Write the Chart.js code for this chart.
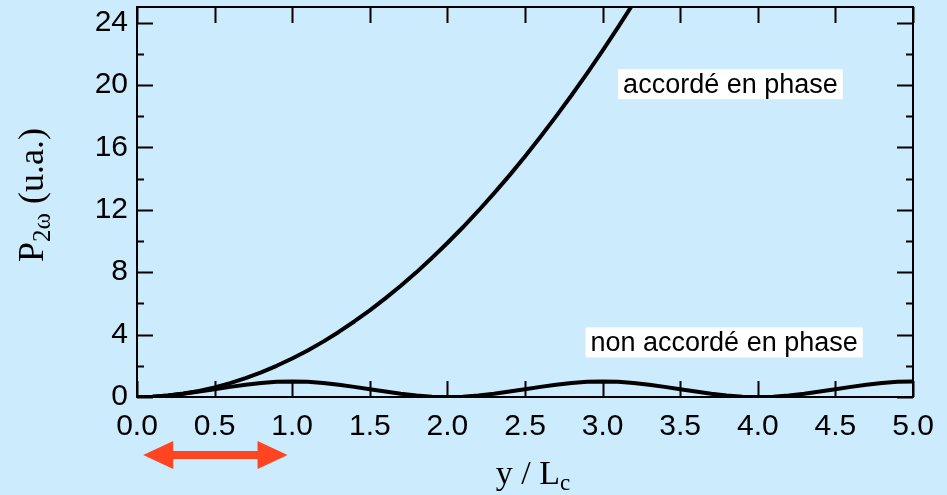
<!DOCTYPE html>
<html>
<head>
<meta charset="utf-8">
<script src="https://cdn.jsdelivr.net/npm/chart.js@4/dist/chart.umd.min.js"></script>
<style>
	html, body { margin: 0; padding: 0; background: #ccebfd; }
	#wrap { width: 947px; height: 495px; }
</style>
</head>
<body>
<div id="wrap"><canvas id="shg" width="947" height="495"></canvas></div>
<script>
// Data: y / Lc from 0 to 5 in steps of 0.1
const positions = [
	0.0, 0.1, 0.2, 0.3, 0.4, 0.5, 0.6, 0.7, 0.8, 0.9,
	1.0, 1.1, 1.2, 1.3, 1.4, 1.5, 1.6, 1.7, 1.8, 1.9,
	2.0, 2.1, 2.2, 2.3, 2.4, 2.5, 2.6, 2.7, 2.8, 2.9,
	3.0, 3.1, 3.2, 3.3, 3.4, 3.5, 3.6, 3.7, 3.8, 3.9,
	4.0, 4.1, 4.2, 4.3, 4.4, 4.5, 4.6, 4.7, 4.8, 4.9,
	5.0,
];

// phase matched: grows quadratically, leaves the frame near 3.2
const matchedPower = [
	0, 0.02, 0.1, 0.22, 0.39, 0.62, 0.89, 1.21, 1.58, 2.0,
	2.47, 2.98, 3.55, 4.17, 4.84, 5.55, 6.32, 7.13, 7.99, 8.91,
	9.87, 10.88, 11.94, 13.05, 14.21, 15.42, 16.68, 17.99, 19.34, 20.75,
	22.21, 23.71, 25.26,
];

// not phase matched: oscillates between 0 and 1
const mismatchedPower = [
	0, 0.02, 0.1, 0.21, 0.35, 0.5, 0.65, 0.79, 0.9, 0.98,
	1.0, 0.98, 0.9, 0.79, 0.65, 0.5, 0.35, 0.21, 0.1, 0.02,
	0, 0.02, 0.1, 0.21, 0.35, 0.5, 0.65, 0.79, 0.9, 0.98,
	1.0, 0.98, 0.9, 0.79, 0.65, 0.5, 0.35, 0.21, 0.1, 0.02,
	0, 0.02, 0.1, 0.21, 0.35, 0.5, 0.65, 0.79, 0.9, 0.98,
	1.0,
];

const xTicks = [0, 0.5, 1, 1.5, 2, 2.5, 3, 3.5, 4, 4.5, 5];
const yTicks = [0, 4, 8, 12, 16, 20, 24];
const yMinorTicks = [2, 6, 10, 14, 18, 22];

const curveLabels = [
	{ text: 'accordé en phase', x: 3.1, y: 20.05 },
	{ text: 'non accordé en phase', x: 2.89, y: 3.5 },
];

// coherence length marker under the axis
const arrowSpan = [0.04, 0.97];

const SANS = '"Liberation Sans", Arial, sans-serif';
const SERIF = '"Liberation Serif", "Times New Roman", serif';

function toPoints(values) {
	return values.map((v, i) => ({ x: positions[i], y: v }));
}

// text with a smaller, lowered run after the main one
function drawSubscripted(ctx, parts, cx, baseline) {
	let total = 0;
	parts.forEach((p) => {
		ctx.font = `${p.size}px ${SERIF}`;
		p.w = ctx.measureText(p.t).width;
		total += p.w;
	});
	let px = cx - total / 2;
	parts.forEach((p) => {
		ctx.font = `${p.size}px ${SERIF}`;
		ctx.fillText(p.t, px, baseline + p.dy);
		px += p.w;
	});
}

// Frame, inward ticks, labels, axis titles and the arrow
const decorations = {
	id: 'decorations',
	afterDatasetsDraw(chart) {
		const { ctx, chartArea: a, scales: { x, y } } = chart;
		ctx.save();

		ctx.strokeStyle = '#000';
		ctx.lineWidth = 2;
		ctx.beginPath();
		xTicks.forEach((v) => {
			const px = Math.round(x.getPixelForValue(v)) + 0.5;
			ctx.moveTo(px, a.bottom);
			ctx.lineTo(px, a.bottom - 16);
			ctx.moveTo(px, a.top);
			ctx.lineTo(px, a.top + 16);
		});
		yTicks.forEach((v) => {
			const py = Math.round(y.getPixelForValue(v)) + 0.5;
			ctx.moveTo(a.left, py);
			ctx.lineTo(a.left + 16, py);
			ctx.moveTo(a.right, py);
			ctx.lineTo(a.right - 16, py);
		});
		yMinorTicks.forEach((v) => {
			const py = Math.round(y.getPixelForValue(v)) + 0.5;
			ctx.moveTo(a.left, py);
			ctx.lineTo(a.left + 7, py);
			ctx.moveTo(a.right, py);
			ctx.lineTo(a.right - 7, py);
		});
		ctx.stroke();
		ctx.strokeRect(a.left, a.top, a.right - a.left, a.bottom - a.top);

		// curve labels on white boxes
		ctx.font = `27px ${SANS}`;
		ctx.textBaseline = 'middle';
		ctx.textAlign = 'left';
		curveLabels.forEach((l) => {
			const px = x.getPixelForValue(l.x);
			const py = y.getPixelForValue(l.y);
			const w = ctx.measureText(l.text).width;
			ctx.fillStyle = '#fff';
			ctx.fillRect(px, py - 15, w + 10, 30);
			ctx.fillStyle = '#000';
			ctx.fillText(l.text, px + 5, py + 1);
		});

		// x title: y / Lc
		ctx.textBaseline = 'alphabetic';
		drawSubscripted(ctx, [
			{ t: 'y / L', size: 34, dy: 0 },
			{ t: 'c', size: 23, dy: 6 },
		], 533, 484);

		// y title: P2ω (u.a.), rotated
		ctx.save();
		ctx.translate(43, 195);
		ctx.rotate(-Math.PI / 2);
		drawSubscripted(ctx, [
			{ t: 'P', size: 36, dy: 0 },
			{ t: '2ω', size: 25, dy: 7 },
			{ t: ' (u.a.)', size: 36, dy: 0 },
		], 0, 0);
		ctx.restore();

		// red double arrow
		const x0 = x.getPixelForValue(arrowSpan[0]);
		const x1 = x.getPixelForValue(arrowSpan[1]);
		const ay = 455;
		ctx.fillStyle = '#ff4422';
		ctx.fillRect(x0 + 28, ay - 4, x1 - x0 - 56, 8);
		ctx.beginPath();
		ctx.moveTo(x0, ay);
		ctx.lineTo(x0 + 30, ay - 14);
		ctx.lineTo(x0 + 30, ay + 14);
		ctx.closePath();
		ctx.moveTo(x1, ay);
		ctx.lineTo(x1 - 30, ay - 14);
		ctx.lineTo(x1 - 30, ay + 14);
		ctx.closePath();
		ctx.fill();

		ctx.restore();
	},
};

const lineStyle = {
	borderColor: '#000',
	borderWidth: 4,
	pointRadius: 0,
	tension: 0,
	fill: false,
	borderJoinStyle: 'round',
	borderCapStyle: 'round',
};

new Chart(document.getElementById('shg'), {
	type: 'line',
	data: {
		datasets: [
			{ label: 'accordé en phase', data: toPoints(matchedPower), ...lineStyle },
			{ label: 'non accordé en phase', data: toPoints(mismatchedPower), ...lineStyle },
		],
	},
	options: {
		responsive: false,
		animation: false,
		layout: { padding: { top: 7, right: 34, left: 0, bottom: 0 } },
		plugins: { legend: { display: false }, tooltip: { enabled: false } },
		scales: {
			x: {
				type: 'linear',
				min: 0,
				max: 5,
				afterBuildTicks: (s) => { s.ticks = xTicks.map((v) => ({ value: v })); },
				afterFit: (s) => {
					s.height = 98;
					s.paddingLeft = 0;
					s.paddingRight = 0;
				},
				grid: { display: false, drawTicks: false },
				border: { display: false },
				ticks: {
					color: '#000',
					padding: 12,
					maxRotation: 0,
					font: { family: SANS, size: 30 },
					callback: (v) => Number(v).toFixed(1),
				},
			},
			y: {
				type: 'linear',
				min: 0,
				max: 25,
				afterBuildTicks: (s) => { s.ticks = yTicks.map((v) => ({ value: v })); },
				afterFit: (s) => {
					s.width = 137;
					s.paddingTop = 0;
					s.paddingBottom = 0;
				},
				grid: { display: false, drawTicks: false },
				border: { display: false },
				ticks: {
					color: '#000',
					padding: 9,
					font: { family: SANS, size: 30 },
				},
			},
		},
	},
	plugins: [decorations],
});
</script>
</body>
</html>
